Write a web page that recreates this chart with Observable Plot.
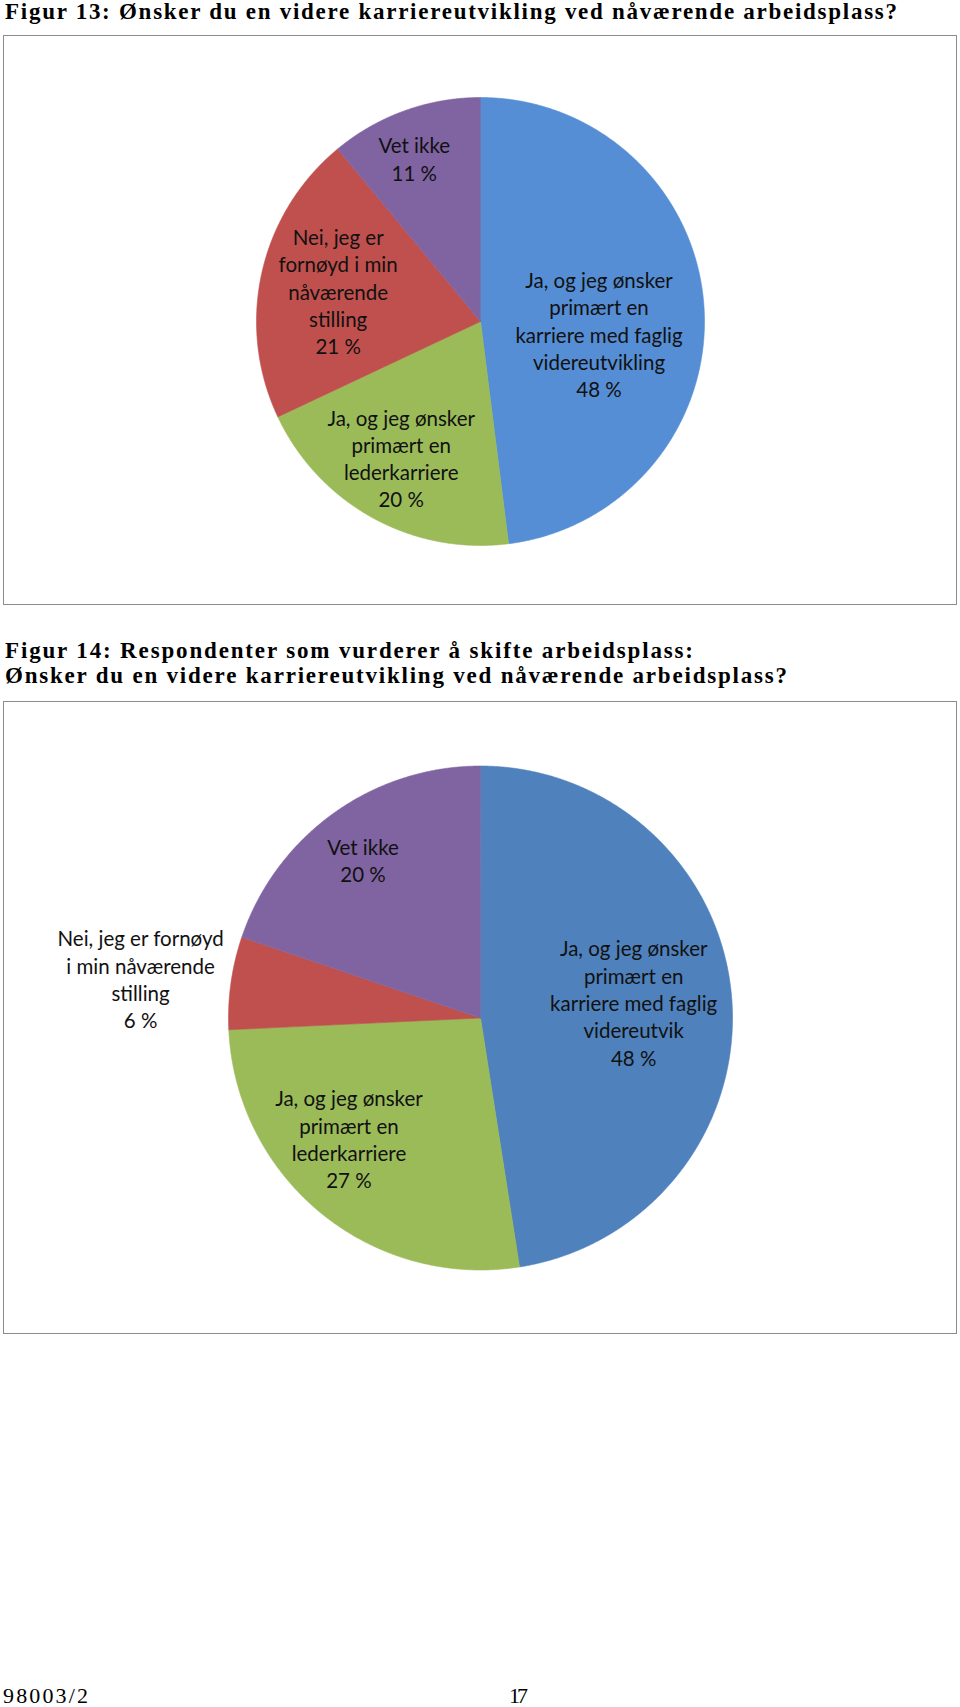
<!DOCTYPE html>
<html>
<head>
<meta charset="utf-8">
<script src="https://cdn.jsdelivr.net/npm/d3@7"></script>
<script src="https://cdn.jsdelivr.net/npm/@observablehq/plot@0.6"></script>
<style>
  html, body { margin: 0; padding: 0; background: #fff; }
  body { width: 960px; height: 1707px; position: relative; overflow: hidden; }
  .t { position: absolute; left: 5px; font-family: "Liberation Serif", "Times New Roman", serif; font-weight: bold; white-space: nowrap; color: #000; transform-origin: 0 0; }
  .f { position: absolute; font-family: "Liberation Serif", "Times New Roman", serif; white-space: nowrap; color: #000; transform-origin: 0 0; }
  .box { position: absolute; left: 3px; width: 952px; border: 1px solid #8c8c8c; background: #fff; }
  .box svg { display: block; }
</style>
</head>
<body>
<div id="t1" class="t"></div>
<div id="box1" class="box"></div>
<div id="t2a" class="t"></div>
<div id="t2b" class="t"></div>
<div id="box2" class="box"></div>
<div id="f1" class="f"></div>
<div id="f2" class="f"></div>
<script>
// ---------- data ----------
const categories = [
  "Ja, og jeg ønsker primært en karriere med faglig videreutvikling",
  "Ja, og jeg ønsker primært en lederkarriere",
  "Nei, jeg er fornøyd i min nåværende stilling",
  "Vet ikke"
];
const values13 = [48, 20, 21, 11];
const values14 = [48, 27, 6, 20];
const labels13 = [
  "Ja, og jeg ønsker\nprimært en\nkarriere med faglig\nvidereutvikling",
  "Ja, og jeg ønsker\nprimært en\nlederkarriere",
  "Nei, jeg er\nfornøyd i min\nnåværende\nstilling",
  "Vet ikke"
];
const labels14 = [
  "Ja, og jeg ønsker\nprimært en\nkarriere med faglig\nvidereutvik",
  "Ja, og jeg ønsker\nprimært en\nlederkarriere",
  "Nei, jeg er fornøyd\ni min nåværende\nstilling",
  "Vet ikke"
];
const title13 = "Figur 13: Ønsker du en videre karriereutvikling ved nåværende arbeidsplass?";
const title14a = "Figur 14: Respondenter som vurderer å skifte arbeidsplass:";
const title14b = "Ønsker du en videre karriereutvikling ved nåværende arbeidsplass?";
const footerLeft = "98003/2";
const footerPage = "17";

// ---------- styles / layout ----------
const colors13 = ["#558ED5", "#9BBB59", "#C0504D", "#8064A2"];
const colors14 = ["#4F81BD", "#9BBB59", "#C0504D", "#8064A2"];
// label placement: angle shift from slice middle (deg) and radius fraction
const place13 = [{da: 9.6, r: 0.532}, {da: 1.4, r: 0.704}, {da: -0.5, r: 0.650}, {da: -2.3, r: 0.786}];
const place14 = [{da: -1.4, r: 0.611}, {da: 8.3, r: 0.708}, {da: -1.4, r: 1.358}, {da: -0.9, r: 0.783}];
const labelFont = "Lato, 'Open Sans', sans-serif";
const labelSize = 20.5;
const labelPitch = 27.3;

function fitText(id, text, left, baseline, right, size, squeeze) {
  const el = document.getElementById(id);
  el.textContent = text;
  el.style.fontSize = size + "px";
  el.style.lineHeight = size + "px";
  el.style.left = left + "px";
  el.style.top = (baseline - size * 0.8375) + "px";
  el.style.letterSpacing = "0px";
  el.style.transform = "none";
  const w = el.getBoundingClientRect().width;
  const n = [...text].length;
  if (right != null && n > 1) el.style.letterSpacing = (((right - left) / squeeze - w) / (n - 1)) + "px";
  el.style.transform = "scaleX(" + squeeze + ")";
}

function pieChart({values, colors, labels, place, width, height, cx, cy, r}) {
  const arcs = d3.pie().sort(null).value(d => d)(values);
  const rows = [];
  arcs.forEach((a, i) => {
    const n = Math.max(4, Math.ceil((a.endAngle - a.startAngle) / 0.004));
    rows.push({k: categories[i], x: 0, y: 0});
    for (let j = 0; j <= n; j++) {
      const t = a.startAngle + (a.endAngle - a.startAngle) * j / n;
      rows.push({k: categories[i], x: Math.sin(t), y: Math.cos(t)});
    }
    rows.push({k: categories[i], x: 0, y: 0});
  });
  const textRows = arcs.map((a, i) => {
    const mid = (a.startAngle + a.endAngle) / 2 + place[i].da * Math.PI / 180;
    return {x: place[i].r * Math.sin(mid), y: place[i].r * Math.cos(mid), text: labels[i] + "\n" + values[i] + " %"};
  });
  return Plot.plot({
    width, height, margin: 0,
    style: {background: "#fff", overflow: "visible"},
    x: {domain: [-cx / r, (width - cx) / r], axis: null},
    y: {domain: [-(height - cy) / r, cy / r], axis: null},
    color: {type: "ordinal", domain: categories, range: colors},
    marks: [
      Plot.line(rows, {x: "x", y: "y", z: "k", fill: "k", stroke: "k", strokeWidth: 0.6, curve: "linear"}),
      Plot.text(textRows, {x: "x", y: "y", text: "text", fill: "#111", fontSize: labelSize, lineHeight: labelPitch / labelSize, fontFamily: labelFont, textAnchor: "middle", lineAnchor: "middle"})
    ]
  });
}

// titles and footer
fitText("t1", title13, 5, 19, 897, 23, 1);
fitText("t2a", title14a, 5, 658, 693, 23, 1);
fitText("t2b", title14b, 5, 683, 787, 23, 1);
fitText("f1", footerLeft, 3, 1703, 88, 22, 1);
fitText("f2", footerPage, 509, 1703, 528, 22, 1);

// chart 1 box
const box1Top = 35, box1Bottom = 604;
const b1 = document.getElementById("box1");
b1.style.top = box1Top + "px";
const h1 = box1Bottom - box1Top - 1;
b1.style.height = h1 + "px";
b1.appendChild(pieChart({values: values13, colors: colors13, labels: labels13, place: place13,
  width: 952, height: h1, cx: 480 - 4, cy: 321 - (box1Top + 1), r: 224}));

// chart 2 box
const box2Top = 701, box2Bottom = 1333;
const b2 = document.getElementById("box2");
b2.style.top = box2Top + "px";
const h2 = box2Bottom - box2Top - 1;
b2.style.height = h2 + "px";
b2.appendChild(pieChart({values: values14, colors: colors14, labels: labels14, place: place14,
  width: 952, height: h2, cx: 480 - 4, cy: 1017.5 - (box2Top + 1), r: 252}));
</script>
</body>
</html>
